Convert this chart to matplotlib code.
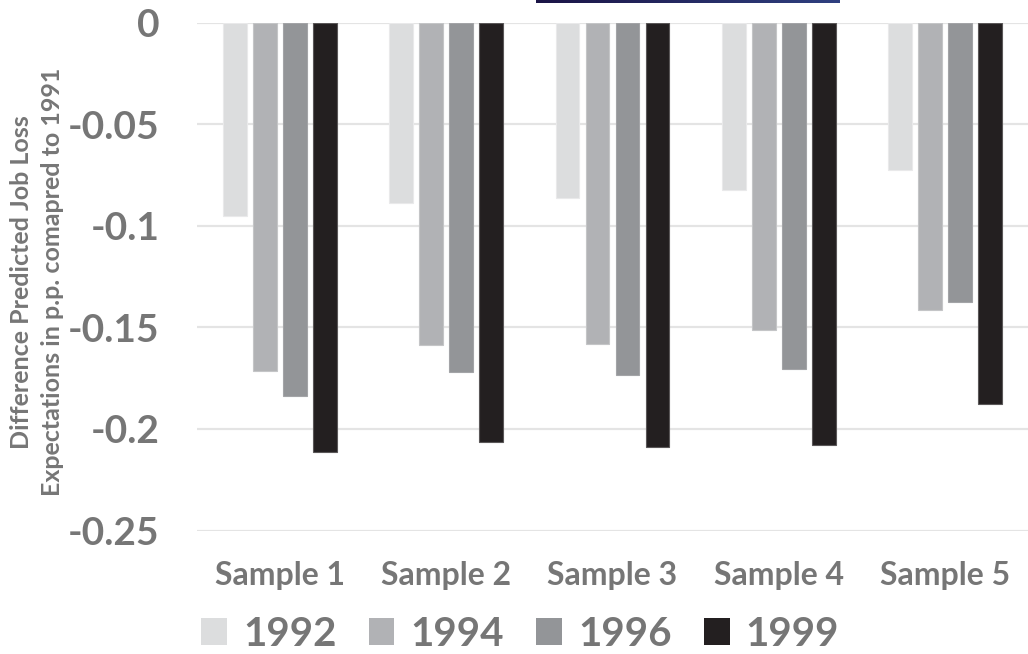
import numpy as np
import matplotlib

matplotlib.use("Agg")
import matplotlib.pyplot as plt
from matplotlib.patches import Patch
from matplotlib.colors import LinearSegmentedColormap

# values
samples = ["Sample 1", "Sample 2", "Sample 3", "Sample 4", "Sample 5"]
years = ["1992", "1994", "1996", "1999"]
diff_1992 = [-0.095, -0.0888, -0.0865, -0.0823, -0.0726]
diff_1994 = [-0.1714, -0.1586, -0.1581, -0.1515, -0.1416]
diff_1996 = [-0.1837, -0.1722, -0.1735, -0.1707, -0.1377]
diff_1999 = [-0.2112, -0.2063, -0.2091, -0.2078, -0.1879]
yticks = [0, -0.05, -0.1, -0.15, -0.2, -0.25]
ytick_labels = ["0", "-0.05", "-0.1", "-0.15", "-0.2", "-0.25"]

colors = ["#dcddde", "#b1b2b5", "#939598", "#231f20"]
edges = ["#e9e9ea", "#c4c5c7", "#a3a4a7", "#5a5758"]
text_gray = "#767676"

plt.rcParams["font.family"] = ["Lato", "DejaVu Sans"]
plt.rcParams["font.weight"] = "bold"

fig = plt.figure(figsize=(10.28, 6.54), dpi=100)
ax = fig.add_axes([197 / 1028, 1 - 530.5 / 654, 831 / 1028, (530.5 - 22.5) / 654])

x = np.arange(len(samples))
offsets = [-0.271, -0.09, 0.09, 0.271]
series = [diff_1992, diff_1994, diff_1996, diff_1999]
for vals, off, c, ec in zip(series, offsets, colors, edges):
    ax.bar(x + off, vals, width=0.143, color=c, edgecolor=ec, linewidth=0.8, zorder=3)

ax.set_xlim(-0.5, len(samples) - 0.5)
ax.set_ylim(-0.25, 0)
ax.set_yticks(yticks)
ax.set_yticklabels(ytick_labels)
ax.set_xticks(x)
ax.set_xticklabels(samples)
ax.yaxis.grid(True, color="#e4e4e4", linewidth=1.6, zorder=0)
ax.set_axisbelow(True)
for s in ax.spines.values():
    s.set_visible(False)
ax.tick_params(axis="y", length=0, pad=27, labelsize=28, labelcolor=text_gray)
ax.tick_params(axis="x", length=0, pad=22, labelsize=23, labelcolor=text_gray)

fig.text(37 / 1028, 1 - 282 / 654,
         "Difference Predicted Job Loss\nExpectations in p.p. comapred to 1991",
         rotation=90, ha="center", va="center", fontsize=18, color=text_gray,
         fontweight="bold", linespacing=1.4, multialignment="center")

handles = [Patch(facecolor=c, edgecolor="none") for c in colors]
fig.legend(handles, years, loc="center", bbox_to_anchor=(0.506, 1 - 634 / 654), ncol=4,
           frameon=False, fontsize=29, labelcolor=text_gray, handlelength=0.64,
           handleheight=0.67, handletextpad=0.4, columnspacing=0.8)

# cut-off title box edge at the top
bar_ax = fig.add_axes([535.7 / 1028, 1 - 3 / 654, (839.7 - 535.7) / 1028, 3 / 654])
grad = np.linspace(0, 1, 256).reshape(1, -1)
navy = LinearSegmentedColormap.from_list("navy", ["#1b1446", "#2f4080"])
bar_ax.imshow(grad, aspect="auto", cmap=navy)
bar_ax.axis("off")

fig.savefig("out.png", dpi=100)
